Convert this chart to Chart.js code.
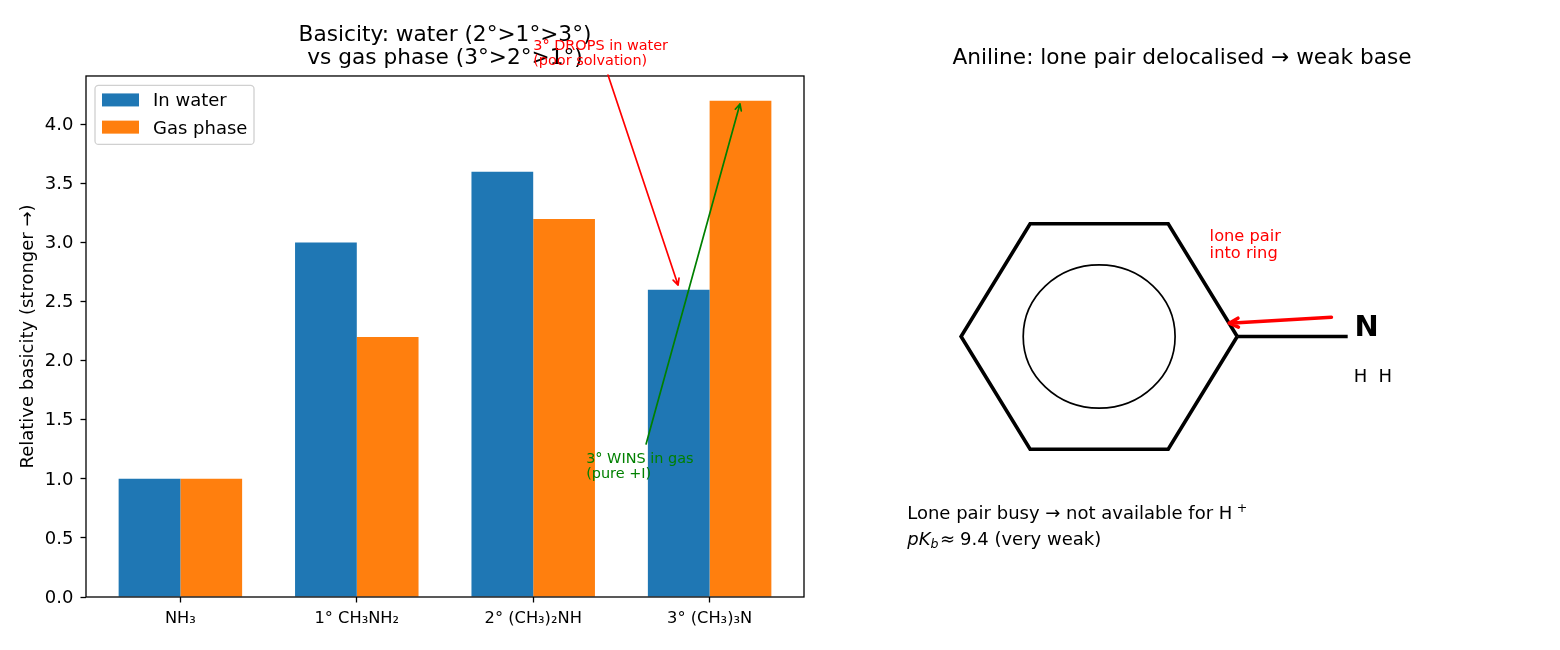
<!DOCTYPE html>
<html>
<head>
<meta charset="utf-8">
<style>
  html, body { margin: 0; padding: 0; background: #fff; width: 1560px; height: 650px; overflow: hidden; }
  canvas { position: absolute; top: 0; }
  #basicity { left: 0; }
  #aniline { left: 803px; }
</style>
<script src="https://cdn.jsdelivr.net/npm/chart.js@4"></script>
</head>
<body>
<canvas id="basicity" width="890" height="650"></canvas>
<canvas id="aniline" width="757" height="650"></canvas>
<script>
const categories = ['NH₃', '1° CH₃NH₂', '2° (CH₃)₂NH', '3° (CH₃)₃N'];
const categoryPositions = [0, 1, 2, 3];
const waterValues = [1.0, 3.0, 3.6, 2.6];
const gasValues = [1.0, 2.2, 3.2, 4.2];
const seriesNames = ['In water', 'Gas phase'];
const seriesColors = ['#1f77b4', '#ff7f0e'];
const basicityTitle = ['Basicity: water (2°>1°>3°)', 'vs gas phase (3°>2°>1°)'];
const basicityAxisTitle = 'Relative basicity (stronger →)';

const dropNote = ['3° DROPS in water', '(poor solvation)'];
const winNote = ['3° WINS in gas', '(pure +I)'];

const ringX = [1, 0.5, -0.5, -1, -0.5, 0.5, 1];
const ringY = [0, 0.866, 0.866, 0, -0.866, -0.866, 0];
const bondX = [1, 1.8];
const bondY = [0, 0];
const innerCircleRadius = 0.55;
const anilineTitle = 'Aniline: lone pair delocalised → weak base';

const FONT = '"DejaVu Sans"';
Chart.defaults.font.family = FONT;
Chart.defaults.color = '#000';
Chart.defaults.animation = false;
Chart.defaults.responsive = false;

const font = (size, style = '') => `${style} ${size}px ${FONT}`.trim();

function drawArrow(ctx, x0, y0, x1, y1, color, width, headLen) {
  const a = Math.atan2(y1 - y0, x1 - x0);
  ctx.save();
  ctx.strokeStyle = color;
  ctx.lineWidth = width;
  ctx.lineCap = 'round';
  ctx.lineJoin = 'round';
  ctx.beginPath();
  ctx.moveTo(x0, y0);
  ctx.lineTo(x1, y1);
  for (const s of [-1, 1]) {
    ctx.moveTo(x1, y1);
    ctx.lineTo(x1 - headLen * Math.cos(a + s * 0.46), y1 - headLen * Math.sin(a + s * 0.46));
  }
  ctx.stroke();
  ctx.restore();
}

function drawLines(ctx, lines, x, y, gap, color, size) {
  ctx.save();
  ctx.fillStyle = color;
  ctx.font = font(size);
  ctx.textAlign = 'left';
  ctx.textBaseline = 'alphabetic';
  lines.forEach((t, i) => ctx.fillText(t, x, y + i * gap));
  ctx.restore();
}

// Axes frame, legend box and arrow notes for the bar panel
const barOverlay = {
  id: 'barOverlay',
  afterDraw(chart) {
    const { ctx, chartArea: a, scales: { x, y } } = chart;
    ctx.save();
    ctx.strokeStyle = '#000';
    ctx.lineWidth = 1.3;
    ctx.strokeRect(a.left, a.top, a.right - a.left, a.bottom - a.top);

    const lx = x.getPixelForValue(-0.484), ly = y.getPixelForValue(4.33);
    ctx.fillStyle = 'rgba(255,255,255,0.8)';
    ctx.strokeStyle = '#d0d0d0';
    ctx.lineWidth = 1.3;
    ctx.beginPath();
    ctx.roundRect(lx, ly, 159, 59, 3.5);
    ctx.fill();
    ctx.stroke();
    ctx.font = font(18);
    ctx.textBaseline = 'alphabetic';
    chart.data.datasets.forEach((d, i) => {
      ctx.fillStyle = d.backgroundColor;
      ctx.fillRect(lx + 7, ly + 8 + i * 27.2, 37, 13);
      ctx.fillStyle = '#000';
      ctx.fillText(d.label, lx + 58, ly + 21 + i * 27.2);
    });
    ctx.restore();

    drawLines(ctx, dropNote, x.getPixelForValue(2), y.getPixelForValue(4.633), 15, '#f00', 14.45);
    drawLines(ctx, winNote, x.getPixelForValue(2.3), y.getPixelForValue(1.136), 15, 'green', 14.45);
    drawArrow(ctx, x.getPixelForValue(2.424), y.getPixelForValue(4.418),
      x.getPixelForValue(2.821), y.getPixelForValue(2.64), '#f00', 1.7, 7);
    drawArrow(ctx, x.getPixelForValue(2.64), y.getPixelForValue(1.295),
      x.getPixelForValue(3.172), y.getPixelForValue(4.173), 'green', 1.7, 7);
  }
};

new Chart(document.getElementById('basicity'), {
  type: 'bar',
  data: {
    datasets: [waterValues, gasValues].map((vals, i) => ({
      label: seriesNames[i],
      data: vals.map((v, j) => ({ x: categoryPositions[j], y: v })),
      backgroundColor: seriesColors[i],
      borderWidth: 0,
      categoryPercentage: 0.7,
      barPercentage: 1
    }))
  },
  options: {
    layout: { padding: { right: 86 } },
    plugins: {
      legend: { display: false },
      tooltip: { enabled: false },
      title: {
        display: true,
        fullSize: false,
        text: basicityTitle,
        font: { size: 21.67, weight: 'normal', lineHeight: 1.061 },
        color: '#000',
        padding: { top: 24, bottom: 6 }
      }
    },
    scales: {
      x: {
        type: 'linear',
        offset: false,
        min: -0.535,
        max: 3.535,
        afterFit: s => { s.height = 53; },
        afterBuildTicks: s => { s.ticks = categoryPositions.map(v => ({ value: v })); },
        grid: { display: true, offset: false, drawOnChartArea: false, drawTicks: true, tickLength: 5.5, tickColor: '#000', tickWidth: 1.3 },
        border: { display: false },
        ticks: {
          autoSkip: false, maxRotation: 0, padding: 7, color: '#000',
          font: { size: 16.25 },
          callback: v => categories[categoryPositions.indexOf(v)]
        }
      },
      y: {
        min: 0,
        max: 4.41,
        afterFit: s => { s.width = 86; },
        grid: { display: true, drawOnChartArea: false, drawTicks: true, tickLength: 5.5, tickColor: '#000', tickWidth: 1.3 },
        border: { display: false },
        ticks: {
          stepSize: 0.5, includeBounds: false, padding: 7, labelOffset: 1, color: '#000',
          font: { size: 18 },
          callback: v => v.toFixed(1)
        },
        title: {
          display: true,
          text: basicityAxisTitle,
          color: '#000',
          font: { size: 18 },
          padding: { top: 18, bottom: 0 }
        }
      }
    }
  },
  plugins: [barOverlay]
});

// Ring circle, atom labels, resonance arrow and caption for the aniline panel
const moleculeOverlay = {
  id: 'moleculeOverlay',
  afterDraw(chart) {
    const { ctx, scales: { x, y } } = chart;
    const px = v => x.getPixelForValue(v), py = v => y.getPixelForValue(v);

    ctx.save();
    ctx.strokeStyle = '#000';
    ctx.lineWidth = 1.7;
    ctx.beginPath();
    ctx.ellipse(px(0), py(0),
      Math.abs(px(innerCircleRadius) - px(0)), Math.abs(py(innerCircleRadius) - py(0)),
      0, 0, Math.PI * 2);
    ctx.stroke();
    ctx.restore();

    drawLines(ctx, ['lone pair', 'into ring'], px(0.8), py(0.73), 17, '#f00', 16.25);
    drawArrow(ctx, px(1.682), py(0.148), px(0.942), py(0.102), '#f00', 3.6, 10);

    ctx.save();
    ctx.fillStyle = '#000';
    ctx.textBaseline = 'alphabetic';
    ctx.font = font(28.9, 'bold');
    ctx.fillText('N', px(1.85), py(0.0));
    ctx.font = font(18);
    ctx.fillText('H  H', px(1.843), py(-0.35));

    // Caption, first line with a raised plus sign
    const capX = px(-1.39);
    const line1 = py(-1.398), line2 = py(-1.6);
    ctx.font = font(18);
    const first = 'Lone pair busy → not available for H';
    ctx.fillText(first, capX, line1);
    const firstEnd = capX + ctx.measureText(first).width;
    ctx.font = font(12.6);
    ctx.fillText('+', firstEnd + 4.5, line1 - 7);

    // Second line: italic symbol with a subscript, then the value
    let cx = capX;
    ctx.font = font(18, 'italic');
    ctx.fillText('pK', cx, line2);
    cx += ctx.measureText('pK').width;
    ctx.font = font(12.6, 'italic');
    ctx.fillText('b', cx, line2 + 3);
    cx += ctx.measureText('b').width + 1.5;
    ctx.font = font(18);
    ctx.fillText('≈', cx, line2);
    cx += ctx.measureText('≈').width + 5;
    ctx.fillText('9.4 (very weak)', cx, line2);
    ctx.restore();
  }
};

new Chart(document.getElementById('aniline'), {
  type: 'scatter',
  data: {
    datasets: [
      { label: 'Ring', data: ringX.map((v, i) => ({ x: v, y: ringY[i] })) },
      { label: 'C–N bond', data: bondX.map((v, i) => ({ x: v, y: bondY[i] })) }
    ].map(d => ({
      ...d, showLine: true, borderColor: '#000', borderWidth: 3.6,
      pointRadius: 0, tension: 0, borderJoinStyle: 'miter', clip: false
    }))
  },
  options: {
    layout: { padding: { left: 20, right: 19, bottom: 53 } },
    plugins: {
      legend: { display: false },
      tooltip: { enabled: false },
      title: {
        display: true,
        text: anilineTitle,
        font: { size: 21.67, weight: 'normal', lineHeight: 1.061 },
        color: '#000',
        padding: { top: 47, bottom: 6 }
      }
    },
    scales: {
      x: { type: 'linear', min: -2, max: 3.2, display: false },
      y: { type: 'linear', min: -2, max: 2, display: false }
    }
  },
  plugins: [moleculeOverlay]
});
</script>
</body>
</html>
